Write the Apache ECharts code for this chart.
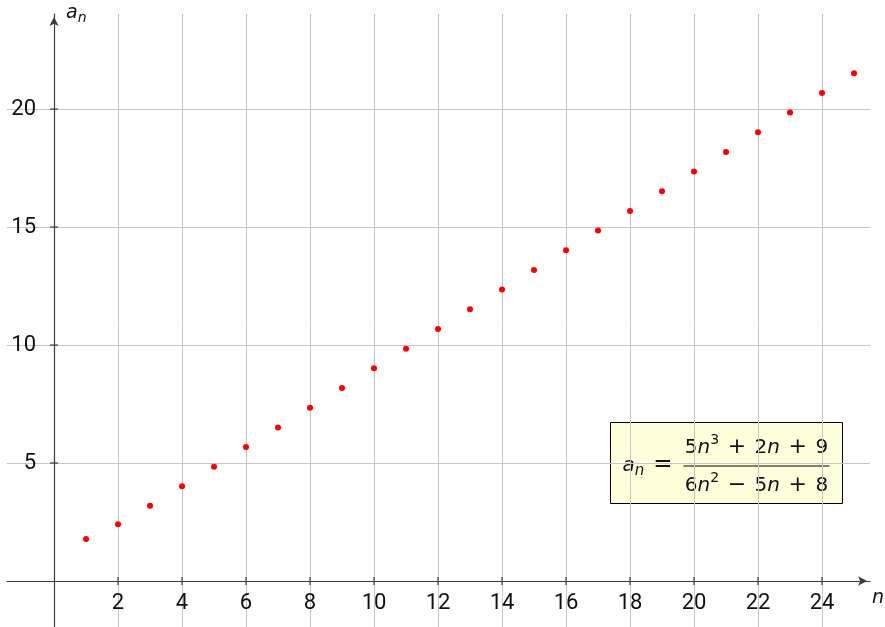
<!DOCTYPE html>
<html>
<head>
<meta charset="utf-8">
<script src="https://cdn.jsdelivr.net/npm/echarts@6/dist/echarts.min.js"></script>
<style>
  html, body { margin: 0; padding: 0; background: #ffffff; }
  #chart { width: 885px; height: 627px; }
</style>
</head>
<body>
<div id="chart"></div>
<script>
// Sequence a_n = (5n^3 + 2n + 9) / (6n^2 - 5n + 8), first 25 terms
const nValues = [1, 2, 3, 4, 5, 6, 7, 8, 9, 10, 11, 12, 13, 14, 15, 16, 17, 18, 19, 20, 21, 22, 23, 24, 25];
const anValues = [1.778, 2.409, 3.191, 4.012, 4.842, 5.675, 6.509, 7.344, 8.178, 9.013,
                  9.847, 10.681, 11.515, 12.349, 13.183, 14.017, 14.851, 15.685, 16.519, 17.352,
                  18.186, 19.020, 19.853, 20.687, 21.520];

// Labelled tick positions on both axes
const xTickValues = [2, 4, 6, 8, 10, 12, 14, 16, 18, 20, 22, 24];
const yTickValues = [5, 10, 15, 20];

const FONT = 'DejaVu Sans';
const LABEL_FONT = 'Roboto';
const AXIS_COLOR = '#3c3c3c';
const GRID_COLOR = '#c6c6c6';
const TEXT_COLOR = '#111111';

const chart = echarts.init(document.getElementById('chart'), null, { renderer: 'canvas' });

// tick label style shared by both axes
const tickLabel = {
  show: true,
  fontFamily: LABEL_FONT,
  fontSize: 22,
  color: TEXT_COLOR
};

const option = {
  animation: false,
  backgroundColor: '#ffffff',
  grid: { left: 7, right: 15, top: 14, bottom: 0, containLabel: false, outerBoundsMode: 'none' },
  xAxis: {
    type: 'value',
    min: -1.47,
    max: 25.5,
    splitNumber: 13,
    minInterval: 2,
    maxInterval: 2,
    name: '{i|n}',
    nameLocation: 'end',
    nameGap: 2,
    nameTextStyle: {
      align: 'left', verticalAlign: 'top', padding: [8, 0, 0, 0],
      rich: { i: { fontFamily: FONT, fontSize: 19, fontStyle: 'italic', color: TEXT_COLOR } }
    },
    axisLine: {
      onZero: true,
      symbol: ['none', 'arrow'],
      symbolSize: [7, 9],
      symbolOffset: [0, -3],
      lineStyle: { color: AXIS_COLOR, width: 1.2 }
    },
    axisTick: { show: false },
    axisLabel: { show: false },
    splitLine: {
      show: true, showMinLine: false, showMaxLine: false,
      lineStyle: { color: GRID_COLOR, width: 1 }
    }
  },
  yAxis: {
    type: 'value',
    min: -1.95,
    max: 24.03,
    splitNumber: 5,
    minInterval: 5,
    maxInterval: 5,
    name: '{a|a}{s|n}',
    nameLocation: 'end',
    nameGap: 1,
    nameTextStyle: {
      align: 'left', verticalAlign: 'middle', padding: [0, 0, 0, 12],
      rich: {
        a: { fontFamily: FONT, fontSize: 19, fontStyle: 'italic', color: TEXT_COLOR },
        s: { fontFamily: FONT, fontSize: 14, fontStyle: 'italic', color: TEXT_COLOR, padding: [10, 0, 0, 0] }
      }
    },
    axisLine: {
      onZero: true,
      symbol: ['none', 'arrow'],
      symbolSize: [7, 9],
      symbolOffset: [0, -3],
      lineStyle: { color: AXIS_COLOR, width: 1.2 }
    },
    axisTick: { show: false },
    axisLabel: { show: false },
    splitLine: {
      show: true, showMinLine: false, showMaxLine: false,
      lineStyle: { color: GRID_COLOR, width: 1 }
    }
  },
  series: [
    {
      // tick marks crossing the horizontal axis, with their labels
      type: 'scatter',
      silent: true,
      symbol: 'rect',
      symbolSize: [1.2, 8],
      itemStyle: { color: AXIS_COLOR, opacity: 1 },
      label: Object.assign({}, tickLabel, {
        position: 'bottom',
        distance: 8,
        formatter: p => String(p.value[0])
      }),
      data: xTickValues.map(v => [v, 0]),
      z: 3
    },
    {
      // tick marks crossing the vertical axis, with their labels
      type: 'scatter',
      silent: true,
      symbol: 'rect',
      symbolSize: [8, 1.2],
      itemStyle: { color: AXIS_COLOR, opacity: 1 },
      label: Object.assign({}, tickLabel, {
        position: 'left',
        distance: 14,
        formatter: p => String(p.value[1])
      }),
      data: yTickValues.map(v => [0, v]),
      z: 3
    },
    {
      name: 'a_n',
      type: 'scatter',
      symbol: 'circle',
      symbolSize: 6,
      itemStyle: { color: '#ff0000', opacity: 1 },
      data: nValues.map((n, i) => [n, anValues[i]]),
      z: 5
    }
  ],
  graphic: [
    {
      type: 'group',
      left: 610,
      top: 422,
      z: 100,
      children: [
        {
          type: 'rect',
          shape: { x: 0, y: 0, width: 232, height: 81 },
          style: { fill: '#ffffdb', stroke: '#000000', lineWidth: 1 }
        },
        {
          type: 'text',
          x: 12, y: 43,
          style: {
            text: '{a|a}{s|n}',
            verticalAlign: 'middle',
            rich: {
              a: { fontFamily: FONT, fontSize: 20, fontStyle: 'italic', fill: TEXT_COLOR },
              s: { fontFamily: FONT, fontSize: 15, fontStyle: 'italic', fill: TEXT_COLOR, padding: [12, 0, 0, 0] }
            }
          }
        },
        {
          type: 'text',
          x: 52.5, y: 43,
          style: {
            text: '=', fontFamily: FONT, fontSize: 23, fill: TEXT_COLOR,
            align: 'center', verticalAlign: 'middle'
          }
        },
        {
          type: 'line',
          shape: { x1: 73, y1: 43.5, x2: 219, y2: 43.5 },
          style: { stroke: '#000000', lineWidth: 1.2 }
        },
        {
          type: 'text',
          x: 146, y: 25,
          style: {
            text: '5{i|n}{p|3}{o|+}2{i|n}{o|+}9',
            fontFamily: FONT, fontSize: 20, fill: TEXT_COLOR,
            align: 'center', verticalAlign: 'middle',
            rich: {
              i: { fontFamily: FONT, fontSize: 20, fontStyle: 'italic', fill: TEXT_COLOR },
              p: { fontFamily: FONT, fontSize: 14, fill: TEXT_COLOR, padding: [0, 0, 14, 0] },
              o: { fontFamily: FONT, fontSize: 22, fill: TEXT_COLOR, padding: [0, 8.5, 0, 8.5] }
            }
          }
        },
        {
          type: 'text',
          x: 146, y: 63,
          style: {
            text: '6{i|n}{p|2}{o|\u2212}5{i|n}{o|+}8',
            fontFamily: FONT, fontSize: 20, fill: TEXT_COLOR,
            align: 'center', verticalAlign: 'middle',
            rich: {
              i: { fontFamily: FONT, fontSize: 20, fontStyle: 'italic', fill: TEXT_COLOR },
              p: { fontFamily: FONT, fontSize: 14, fill: TEXT_COLOR, padding: [0, 0, 14, 0] },
              o: { fontFamily: FONT, fontSize: 22, fill: TEXT_COLOR, padding: [0, 8.5, 0, 8.5] }
            }
          }
        }
      ]
    }
  ]
};

chart.setOption(option);
</script>
</body>
</html>
